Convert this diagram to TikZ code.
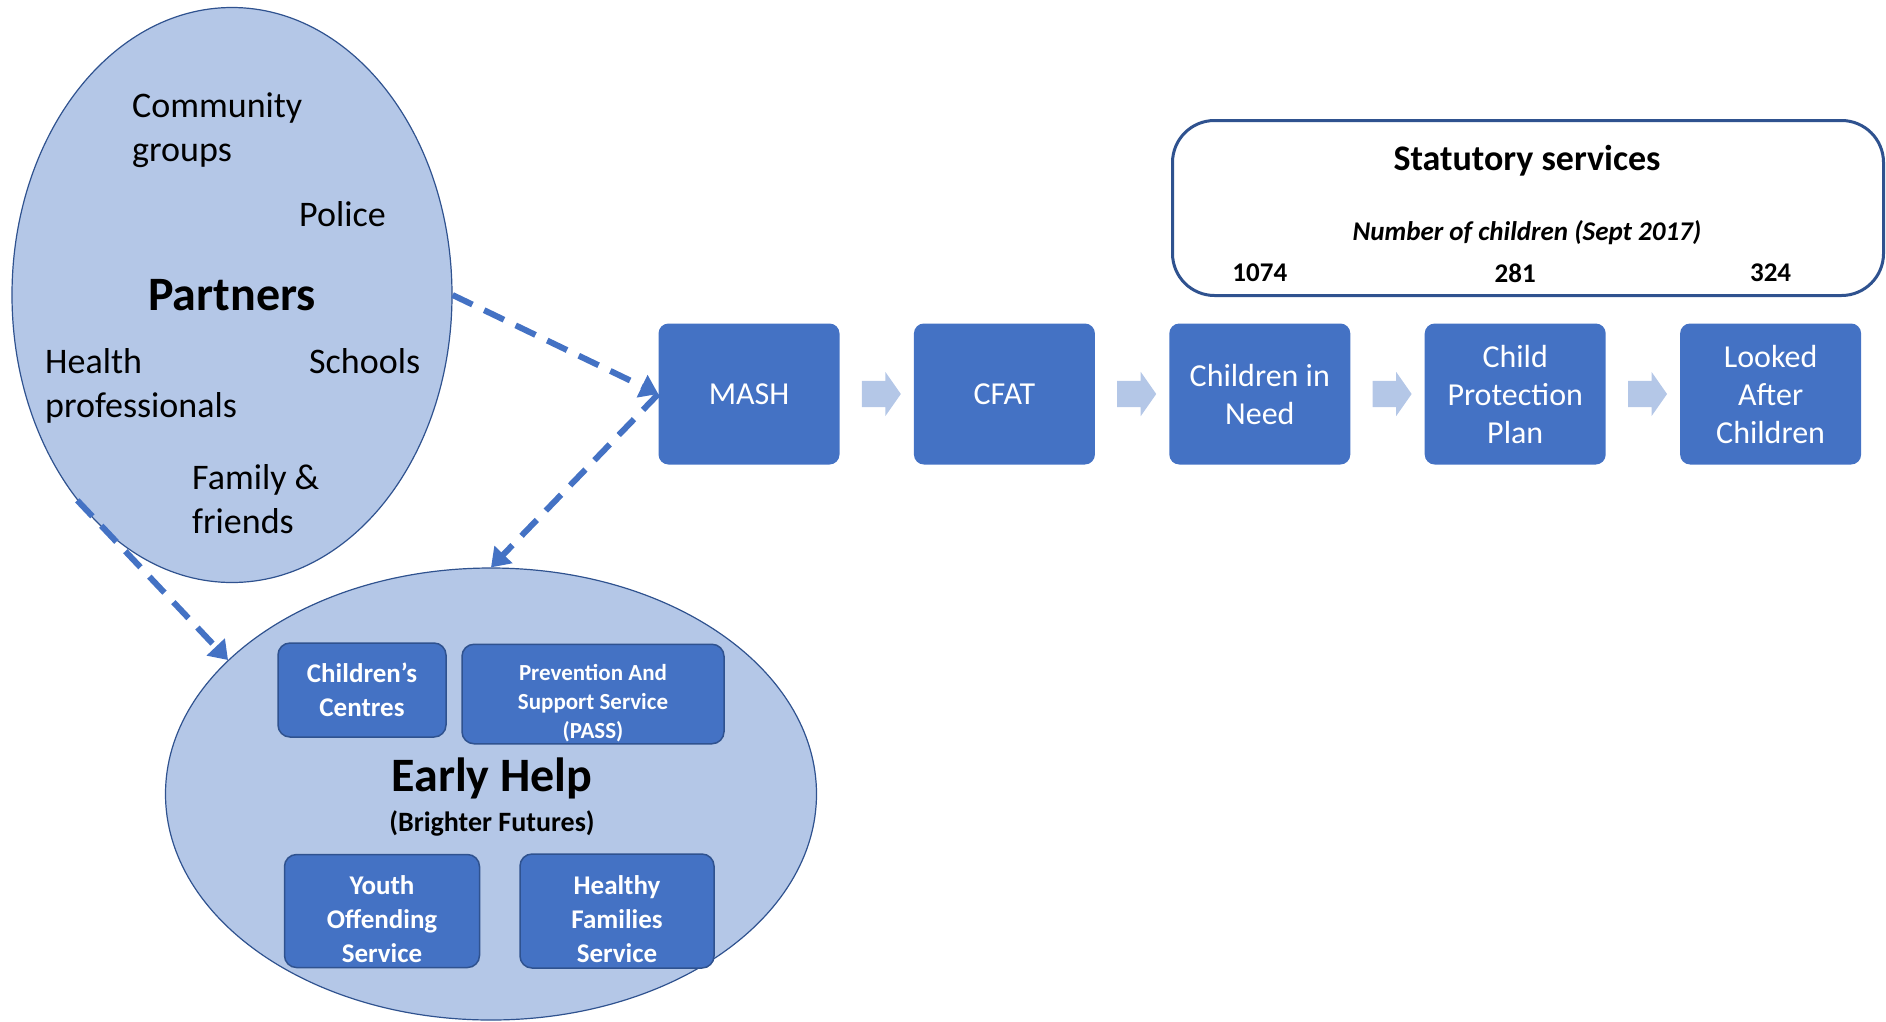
\documentclass[tikz,border=0pt]{standalone}
\usepackage{fontspec}
\setmainfont{Carlito}
\usetikzlibrary{arrows.meta,positioning,shapes.geometric,shapes.arrows,calc}
\definecolor{boxblue}{HTML}{4472C4}
\definecolor{lightblue}{HTML}{B4C7E7}
\definecolor{darkblue}{HTML}{2F528F}

\begin{document}
\begin{tikzpicture}[x=1pt,y=-1pt,node distance=74pt,
  stage/.style={rectangle,rounded corners=10pt,fill=boxblue,text=white,minimum width=181pt,minimum height=141pt,align=center,font=\fontsize{32}{38}\selectfont},
  service/.style={rectangle,rounded corners=12pt,fill=boxblue,draw=darkblue,line width=1.5pt,text=white,align=center,inner sep=2pt,font=\bfseries\fontsize{27}{34}\selectfont},
  group/.style={ellipse,fill=lightblue,draw=darkblue,line width=1.2pt,inner sep=0pt},
  chev/.style={single arrow,fill=lightblue,inner xsep=0pt,inner ysep=13pt,minimum height=39pt,single arrow head extend=9pt,single arrow tip angle=110},
  partner/.style={anchor=west,align=left,inner sep=0pt,font=\fontsize{36}{44}\selectfont},
  link/.style={boxblue,line width=6pt,dash pattern=on 22pt off 13pt,-{Triangle[length=18pt,width=24pt]}}]
  \useasboundingbox (0,0) rectangle (1886,1021);

  \node[group,minimum width=440pt,minimum height=575pt,font=\bfseries\fontsize{48}{58}\selectfont] (partners) at (232,295) {Partners};
  \node[partner] (community) at (132,130) {Community\\groups};
  \node[partner] (police)    at (299,214) {Police};
  \node[partner] (health)    at (45,386)  {Health\\professionals};
  \node[partner] (schools)   at (309,361) {Schools};
  \node[partner] (family)    at (192,499) {Family \&\\friends};

  \node[group,minimum width=651pt,minimum height=452pt] (earlyhelp) at (491,794) {};
  \node[font=\bfseries\fontsize{48}{58}\selectfont] (ehtitle) at (492,778) {Early Help};
  \node[font=\bfseries\fontsize{28}{34}\selectfont] (ehsub)   at (492,823) {(Brighter Futures)};
  \node[service,minimum width=168pt,minimum height=94pt] (centres) at (362,690) {Children's\\Centres};
  \node[service,minimum width=262pt,minimum height=96pt,text height=92pt,font=\bfseries\fontsize{23}{29}\selectfont] (pass) at (593,694) {Prevention And\\Support Service\\(PASS)};
  \node[service,minimum width=195pt,minimum height=113pt,text height=104pt] (yos) at (382,911) {Youth\\Offending\\Service};
  \node[service,minimum width=194pt,minimum height=114pt,text height=104pt] (hfs) at (617,911) {Healthy\\Families\\Service};

  \node[stage]              (mash) at (749,394) {MASH};
  \node[stage,right=of mash] (cfat) {CFAT};
  \node[stage,right=of cfat] (cin)  {Children in\\Need};
  \node[stage,right=of cin]  (cpp)  {Child\\Protection\\Plan};
  \node[stage,right=of cpp]  (lac)  {Looked\\After\\Children};
  \foreach \a/\b in {mash/cfat,cfat/cin,cin/cpp,cpp/lac}
    \node[chev] at ($(\a.east)!0.5!(\b.west)$) {};

  \node[draw=darkblue,line width=3pt,rounded corners=42pt,fill=white,minimum width=711pt,minimum height=175pt] (statutory) at (1528,208) {};
  \node[font=\bfseries\fontsize{36}{44}\selectfont] (stattitle) at (1527,161) {Statutory services};
  \node[font=\bfseries\itshape\fontsize{27}{32}\selectfont] (statsub) at (1527,233) {Number of children (Sept 2017)};
  \foreach \s/\n in {cin/1074,cpp/281,lac/324}
    \node[font=\bfseries\fontsize{27}{32}\selectfont] (num-\s) at (\s.north |- 0,273) {\n};

  \draw[link] (partners.east) -- (mash.west);
  \draw[link] (mash.west) -- (earlyhelp.north);
  \draw[link] (partners.233) -- (earlyhelp.153);
\end{tikzpicture}
\end{document}
